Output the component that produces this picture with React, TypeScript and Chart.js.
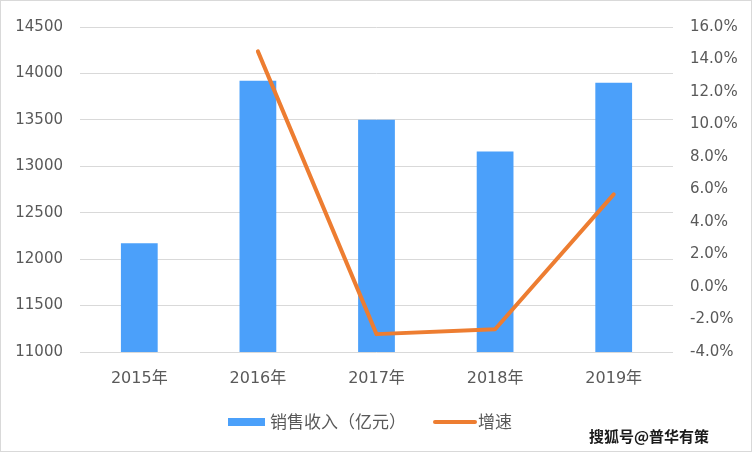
import React, { useEffect, useRef } from "react";
import { Chart, registerables } from "chart.js";

Chart.register(...registerables);

const categories = ["2015年", "2016年", "2017年", "2018年", "2019年"];
const revenue = [12170, 13920, 13500, 13160, 13900];
const growth: (number | null)[] = [null, 14.5, -2.9, -2.6, 5.7];
const revenueLabel = "销售收入（亿元）";
const growthLabel = "增速";
const watermark = "搜狐号@普华有策";

const BLUE = "#4BA0FA";
const ORANGE = "#ED7D31";
const FONT = "'DejaVu Sans', 'Noto Sans CJK SC', sans-serif";
const CJK = "'Noto Sans CJK SC', sans-serif";

const overlayPlugin = {
  id: "overlay",
  afterDraw(chart: any) {
    const ctx = chart.ctx as CanvasRenderingContext2D;
    ctx.save();
    const y = 421;
    ctx.fillStyle = BLUE;
    ctx.fillRect(227, y - 4, 37, 8);
    ctx.font = `17px ${CJK}`;
    ctx.fillStyle = "#595959";
    ctx.textBaseline = "middle";
    ctx.textAlign = "left";
    ctx.fillText(revenueLabel, 269, y);
    ctx.strokeStyle = ORANGE;
    ctx.lineWidth = 4;
    ctx.lineCap = "round";
    ctx.beginPath();
    ctx.moveTo(434, y);
    ctx.lineTo(474, y);
    ctx.stroke();
    ctx.fillText(growthLabel, 477, y);
    ctx.font = `bold 15px ${CJK}`;
    ctx.fillStyle = "#1a1a1a";
    ctx.textAlign = "right";
    ctx.fillText(watermark, 708, 435);
    ctx.restore();
  },
};

export default function App() {
  const ref = useRef<HTMLCanvasElement>(null);
  useEffect(() => {
    document.body.style.margin = "0";
    if (!ref.current) return;
    const chart = new Chart(ref.current, {
      type: "bar",
      data: {
        labels: categories,
        datasets: [
          {
            type: "line",
            label: growthLabel,
            data: growth as any,
            yAxisID: "y1",
            borderColor: ORANGE,
            backgroundColor: ORANGE,
            borderWidth: 4,
            borderCapStyle: "round",
            borderJoinStyle: "round",
            pointRadius: 0,
            tension: 0,
            order: 0,
          } as any,
          {
            type: "bar",
            label: revenueLabel,
            data: revenue,
            yAxisID: "y",
            backgroundColor: BLUE,
            categoryPercentage: 1,
            barPercentage: 0.31,
            order: 1,
          },
        ],
      },
      options: {
        animation: false,
        responsive: true,
        maintainAspectRatio: false,
        layout: { padding: { top: 19, left: 0, right: 0, bottom: 0 } },
        plugins: { legend: { display: false }, tooltip: { enabled: false } },
        scales: {
          x: {
            grid: { display: false, drawTicks: false },
            border: { display: false },
            ticks: { color: "#595959", font: { family: FONT, size: 16 }, padding: 17 },
            afterFit: (s: any) => {
              s.height = 99;
            },
          },
          y: {
            position: "left",
            min: 11000,
            max: 14500,
            ticks: {
              stepSize: 500,
              color: "#595959",
              font: { family: FONT, size: 15 },
              padding: 17,
              callback: (v: any) => String(v),
            },
            grid: { color: "#d9d9d9", lineWidth: 1, drawTicks: false },
            border: { display: false },
            afterFit: (s: any) => {
              s.width = 79;
            },
          },
          y1: {
            position: "right",
            min: -4,
            max: 16,
            ticks: {
              stepSize: 2,
              color: "#595959",
              font: { family: FONT, size: 15 },
              padding: 17,
              callback: (v: any) => Number(v).toFixed(1) + "%",
            },
            grid: { display: false, drawTicks: false },
            border: { display: false },
            afterFit: (s: any) => {
              s.width = 78;
            },
          },
        },
      },
      plugins: [overlayPlugin],
    });
    return () => chart.destroy();
  }, []);
  return (
    <div
      style={{
        position: "relative",
        width: 752,
        height: 452,
        border: "1px solid #d9d9d9",
        boxSizing: "border-box",
        background: "#fff",
      }}
    >
      <canvas ref={ref} />
    </div>
  );
}
